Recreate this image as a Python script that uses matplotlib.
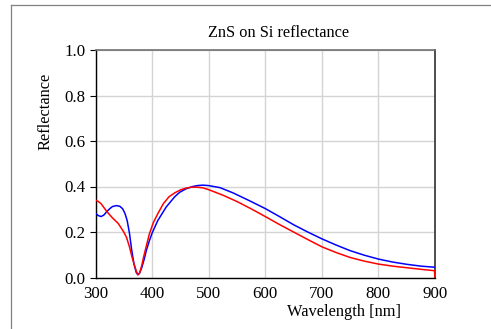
import numpy as np
import matplotlib
matplotlib.use("Agg")
import matplotlib.pyplot as plt
from matplotlib.lines import Line2D

# blue curve
wl_blue = [300, 305, 310, 315, 320, 325, 330, 337, 343, 348, 352, 356, 360, 364, 368, 372, 375, 378,
           382, 386, 390, 395, 400, 410, 425, 440, 449, 460, 472, 480, 490, 500, 520, 543, 570,
           600, 625, 650, 675, 700, 725, 750, 775, 800, 825, 850, 875, 900]
r_blue = [0.282, 0.272, 0.268, 0.275, 0.29, 0.302, 0.312, 0.316, 0.313, 0.302, 0.282, 0.25, 0.195,
          0.12, 0.06, 0.022, 0.012, 0.02, 0.045, 0.08, 0.12, 0.16, 0.195, 0.25, 0.31, 0.355, 0.375,
          0.39, 0.4, 0.404, 0.406, 0.404, 0.395, 0.372, 0.34, 0.303, 0.268, 0.232, 0.2, 0.17,
          0.143, 0.118, 0.098, 0.081, 0.068, 0.058, 0.05, 0.045]

# red curve
wl_red = [300, 305, 310, 320, 330, 340, 350, 355, 360, 364, 368, 372, 375, 378, 382, 385, 390,
          395, 402, 410, 420, 430, 440, 450, 460, 470, 480, 490, 500, 525, 550, 575, 600, 625,
          650, 675, 700, 725, 750, 775, 800, 825, 850, 875, 899, 900]
r_red = [0.34, 0.334, 0.324, 0.29, 0.262, 0.238, 0.2, 0.175, 0.135, 0.095, 0.06, 0.028, 0.012, 0.02,
         0.055, 0.09, 0.14, 0.19, 0.24, 0.28, 0.325, 0.355, 0.372, 0.385, 0.393, 0.397, 0.397,
         0.394, 0.386, 0.362, 0.334, 0.302, 0.268, 0.233, 0.2, 0.167, 0.135, 0.11, 0.088, 0.072,
         0.059, 0.05, 0.043, 0.036, 0.03, 0.0]

x_ticks = [300, 400, 500, 600, 700, 800, 900]
y_ticks = [0.0, 0.2, 0.4, 0.6, 0.8, 1.0]

plt.rcParams["font.family"] = ["Liberation Serif", "DejaVu Serif"]

fig = plt.figure(figsize=(4.91, 3.29), dpi=100)
ax = fig.add_axes([95.5 / 491, 1 - 277.5 / 329, (435 - 95.5) / 491, (277.5 - 50) / 329])

ax.plot(wl_blue, r_blue, color="#0000ff", linewidth=1.1, zorder=3)
ax.plot(wl_red, r_red, color="#ff0000", linewidth=1.1, zorder=4)

ax.set_xlim(300, 900)
ax.set_ylim(0, 1.0)
ax.set_xticks(x_ticks)
ax.set_yticks(y_ticks)
ax.set_xticklabels([str(v) for v in x_ticks])
ax.set_yticklabels([f"{v:.1f}" for v in y_ticks])
ax.grid(True, color="#d4d4d4", linewidth=1.0)
ax.set_axisbelow(True)

ax.tick_params(axis="y", direction="out", length=4.5, width=0.8, pad=2.5, labelsize=12.2)
ax.tick_params(axis="x", length=0, pad=6, labelsize=12.2)

for side in ["left", "bottom"]:
    ax.spines[side].set_color("black")
    ax.spines[side].set_linewidth(1.0)
ax.spines["top"].set_color("#707070")
ax.spines["top"].set_linewidth(1.2)
ax.spines["right"].set_color("#303030")
ax.spines["right"].set_linewidth(1.2)

fig.text(279 / 491, 1 - 33 / 329, "ZnS on Si reflectance", ha="center", va="center", fontsize=11.8)
fig.text(344 / 491, 1 - 312 / 329, "Wavelength [nm]", ha="center", va="center", fontsize=11.8)
fig.text(45 / 491, 1 - 111 / 329, "Reflectance", ha="center", va="center", rotation=90, fontsize=11.8)

# outer frame lines
fig.add_artist(Line2D([10.5 / 491, 10.5 / 491], [0, 1 - 4.5 / 329], transform=fig.transFigure,
                      color="#808080", linewidth=0.9))
fig.add_artist(Line2D([10.5 / 491, 1], [1 - 4.5 / 329, 1 - 4.5 / 329], transform=fig.transFigure,
                      color="#808080", linewidth=0.9))

fig.savefig("out.png", dpi=100)
